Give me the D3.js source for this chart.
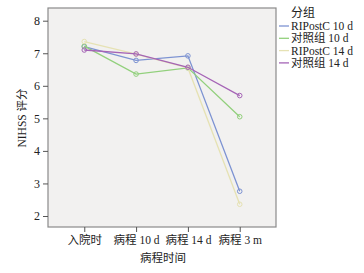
<!DOCTYPE html>
<html>
<head>
<meta charset="utf-8">
<script src="https://cdn.jsdelivr.net/npm/d3@7"></script>
<style>
body{margin:0;background:#fff;}
text{font-family:"Liberation Serif","Noto Sans CJK SC",serif;}
</style>
</head>
<body>
<div id="chart"></div>
<script>
// data
const categories=["入院时","病程 10 d","病程 14 d","病程 3 m"];
const seriesNames=["RIPostC 10 d","对照组 10 d","RIPostC 14 d","对照组 14 d"];
const seriesColors=["#7d93d2","#92d07c","#e6e2b4","#a564b6"];
const ripostc10=[7.2,6.78,6.92,2.76];
const control10=[7.22,6.36,6.55,5.05];
const ripostc14=[7.36,6.97,6.55,2.36];
const control14=[7.1,6.98,6.57,5.7];
const yTicks=[2,3,4,5,6,7,8];
const allSeries=[ripostc10,control10,ripostc14,control14];

const width=364,height=273;
const margin_left=48,margin_top=8,plot_right=276,plot_bottom=227;

const svg=d3.select("#chart").append("svg")
  .attr("width",width).attr("height",height);

svg.append("rect")
  .attr("x",margin_left).attr("y",margin_top)
  .attr("width",plot_right-margin_left).attr("height",plot_bottom-margin_top)
  .attr("fill","#f2f1f0").attr("stroke","#8a8a8a").attr("stroke-width",1.2);

const x_scale=d3.scalePoint()
  .domain(categories)
  .range([margin_left,plot_right])
  .padding(0.7);

const y_scale=d3.scaleLinear()
  .domain([2,8])
  .range([216,20.7]);

let xAxis=svg.append("g")
  .attr("transform","translate(0,"+plot_bottom+")")
  .call(d3.axisBottom(x_scale).tickSize(5).tickPadding(4));
xAxis.select(".domain").remove();
xAxis.selectAll("line").attr("stroke","#555");
xAxis.selectAll("text").attr("font-size",11.5).attr("fill","#222")
  .style("font-family","'Liberation Serif','Noto Sans CJK SC',serif");

let yAxis=svg.append("g")
  .attr("transform","translate("+margin_left+",0)")
  .call(d3.axisLeft(y_scale).tickValues(yTicks).tickSize(5).tickPadding(3).tickFormat(d3.format("d")));
yAxis.select(".domain").remove();
yAxis.selectAll("line").attr("stroke","#555");
yAxis.selectAll("text").attr("font-size",12).attr("fill","#222")
  .style("font-family","'Liberation Serif',serif");

// axis titles
svg.append("text")
  .attr("x",(margin_left+plot_right)/2+1).attr("y",262)
  .attr("text-anchor","middle").attr("font-size",11.5).attr("fill","#222")
  .text("病程时间");

svg.append("text")
  .attr("transform","translate(26,118) rotate(-90)")
  .attr("text-anchor","middle").attr("font-size",11.5).attr("fill","#222")
  .text("NIHSS 评分");

// lines and markers
const line=d3.line()
  .x((d,i)=>x_scale(categories[i]))
  .y(d=>y_scale(d));

for(var i=0;i<allSeries.length;i++){
  let current_data=allSeries[i];
  let current_color=seriesColors[i];
  svg.append("path")
    .datum(current_data)
    .attr("d",line)
    .attr("fill","none")
    .attr("stroke",current_color)
    .attr("stroke-width",1.3);
  svg.selectAll(".pt"+i)
    .data(current_data)
    .enter()
    .append("circle")
    .attr("cx",(d,j)=>x_scale(categories[j]))
    .attr("cy",d=>y_scale(d))
    .attr("r",2.3)
    .attr("fill","none")
    .attr("stroke",current_color)
    .attr("stroke-width",1);
}

// legend
svg.append("text")
  .attr("x",291).attr("y",17)
  .attr("font-size",12).attr("fill","#222")
  .text("分组");

let legendRow=svg.selectAll(".legend")
  .data(seriesNames)
  .enter()
  .append("g")
  .attr("transform",(d,i)=>"translate(0,"+(26+i*12.3)+")");
legendRow.append("line")
  .attr("x1",279).attr("x2",289)
  .attr("y1",0).attr("y2",0)
  .attr("stroke",(d,i)=>seriesColors[i]).attr("stroke-width",1.3);
legendRow.append("text")
  .attr("x",291).attr("y",4)
  .attr("font-size",11.5).attr("fill","#222")
  .text(d=>d);
</script>
</body>
</html>
